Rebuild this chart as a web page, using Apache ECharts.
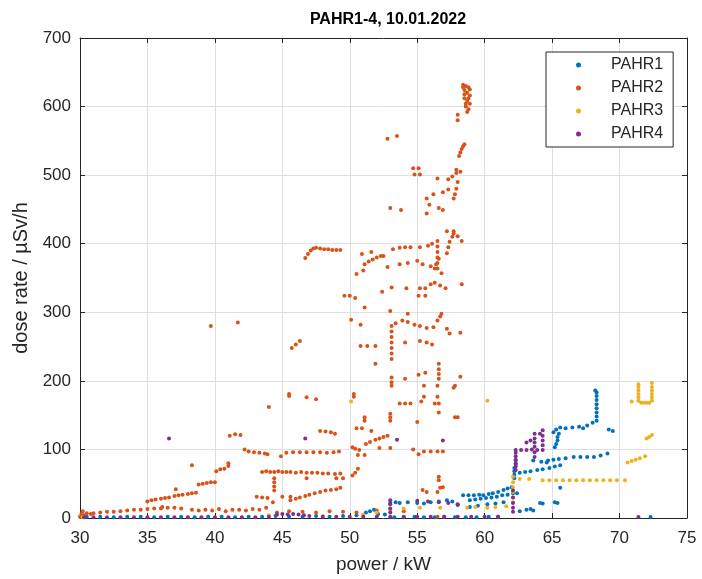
<!DOCTYPE html>
<html>
<head>
<meta charset="utf-8">
<script src="https://cdn.jsdelivr.net/npm/echarts@6/dist/echarts.min.js"></script>
<style>
  html, body { margin: 0; padding: 0; background: #fff; }
  #chart { width: 702px; height: 579px; }
</style>
</head>
<body>
<div id="chart"></div>
<script>
// tick values
const xTicks = [30, 35, 40, 45, 50, 55, 60, 65, 70, 75];
const yTicks = [0, 100, 200, 300, 400, 500, 600, 700];
const seriesNames = ['PAHR1', 'PAHR2', 'PAHR3', 'PAHR4'];

// [power kW, dose rate uSv/h]
const pahr1 = [
  [30.5,2],[31.5,2],[32.5,1],[33.5,2],[34.5,2],[35.5,1],[36.5,2],[37.5,2],[38.5,1],[39.5,2],
  [40.5,2],[41.5,1],[42.5,2],[43.5,2],[44.5,3],[45.5,2],[46.5,2],[47.5,3],[48.5,2],[49.5,3],
  [50.5,4],[51.2,8],[51.5,10],[51.8,12],[52.1,6],[52.6,5],[53.3,1],[54,1],[54.8,2],[55.5,1],
  [56.3,1],[57,2],[57.8,1],[58.6,1],[59.4,1],[60.3,2],[61,2],
  [53,22],[53.4,23],[53.7,22],[54.3,23],[55,22],[55.5,21],[56,23],[56.6,24],[57.2,26],[57.6,24],[58,19],
  [58.4,33],[58.8,33],[59.2,33],[59.6,34],[59.9,33],[60.3,35],[60.6,36],[61,38],[61.4,41],[61.7,43],[62,45],
  [58.9,26],[59.3,27],[59.7,28],[60.1,29],[60.5,30],[60.9,31],[61.3,33],[61.7,34],[62.1,36],[62.4,36],
  [58.9,16],[59.5,18],[60.2,20],[60.8,21],[61.4,23],
  [62.2,58],[62.2,63],[62.2,68],[62.2,73],[62.3,78],[62.3,84],
  [62.6,66],[63,67],[63.4,68],[63.9,70],[64.3,71],[64.8,73],[65.2,75],[65.6,77],
  [63.6,84],[64.2,82],[64.6,81],[64.7,84],[65.1,85],[65.5,86],[66,87],[66.6,89],[67.1,89],[67.6,89],
  [68.1,89],[68.6,91],[69.1,94],
  [65.2,103],[65.3,108],[65.4,113],[65.4,118],[65.5,123],[65.1,125],[65.3,129],[65.6,132],[66,131],
  [66.5,132],[67,133],[67.3,131],[67.6,135],[68,139],
  [68.3,142],[68.3,148],[68.3,154],[68.3,160],[68.3,166],[68.3,172],[68.3,178],[68.3,183],[68.2,186],
  [69.2,129],[69.5,127],
  [62.6,10],[63.1,12],[63.4,13],[63.6,11],[64.1,22],[64.3,21],[65.2,23],[65.4,22],[65.6,44],
  [72.3,1.5]
];

const pahr2 = [
  // low band 30-38
  [30,2],[30.1,6],[30.2,10],[30.3,4],[30.5,7],[30.8,6],[31,7],[31.5,8],[32,9],[32.5,9],[33,10],
  [33.5,11],[34,12],[34.5,12],[35,13],[35.5,14],[36,14],[36.1,16],[36.5,15],[37,15],[37.5,14],
  [38.3,12],[38.8,11],[39.3,12],[39.8,11],[40.3,13],[40.8,10],[41.3,12],[41.8,12],[42.3,11],
  [42.8,13],[43.3,12],[43.8,15],
  [35,24],[35.3,26],[35.6,27],[36,28],[36.3,29],[36.6,30],[37,32],[37.3,33],[37.6,34],[38,35],
  [38.3,36],[38.6,37],[37.1,42],
  [38.8,49],[39.1,50],[39.4,51],[39.7,52],[40,52],
  [40.1,68],[40.4,71],[40.7,72],[41,76],[41,80],[38.3,77],
  [41.1,120],[41.5,122],[41.9,121],
  [42.2,100],[42.5,97],[42.9,96],[43.3,95],[43.7,94],[43.9,93],
  [39.7,280],[41.7,285],[44,162],[45.5,178],[46.8,176],[47.5,173],[45.5,181],
  [45.7,248],[46,253],[46.3,258],
  [46.7,379],[46.9,385],[47.1,390],[47.3,393],[47.5,394],[47.8,393],[48.1,392],[48.4,392],
  [48.7,391],[49,391],[49.3,391],
  [44.9,90],[45.3,95],[45.8,96],[46.3,96],[46.8,96],[47.3,96],[47.8,96],[48.3,95],[48.8,96],[49.2,97],
  [43.5,67],[43.8,68],[44.1,67],[44.4,67],[44.7,68],[45,67],[45.3,67],[45.6,67],[46,66],[46.4,67],
  [46.8,66],[47.2,66],[47.6,66],[48,65],[48.4,65],[48.9,64],[49.3,65],
  [45.6,26],[46,28],[46.3,30],[46.7,32],[47,34],[47.4,36],[47.8,38],[48.2,40],[48.6,41],[49,42],[49.3,44],
  [44.4,58],[44.4,52],[44.4,46],[44.4,40],
  [43.1,31],[43.5,30],[43.9,29],[44.3,23],[45,31],[45.6,31],
  [44.6,8],[45.5,10],[46.5,9],[47.5,8],[48.5,10],[49.5,9],[50.5,8],[52,11],[54,10],[56.5,2],
  [49,58],[49.5,58],[50.2,62],[50.4,66],[50.6,72],[46.8,58],
  [47.8,127],[48.2,126],[48.6,125],[48.9,123],
  [50.3,181],[50.3,177],[51.1,147],[51.1,142],[50.5,131],[50.9,131],[51.6,127],
  [50.2,103],[50.4,101],[50.7,99],[50.6,92],[51.1,92],
  [51.2,108],[51.5,111],[51.9,114],[52.2,116],[52.5,118],[52.8,120],[52.2,102],[53,102],
  [53,152],[53,147],[53,142],[53.7,167],[54.1,167],[54.5,167],[55,140],[55.3,170],[55.5,177],
  [56.5,177],[56.3,167],[56.6,167],[56.6,154],[57.8,147],[58,147],[57.7,190],
  [54.7,100],[55.1,93],[55.5,97],[56,97],[56.5,97],[56.9,97],
  [56.6,60],[56.6,55],[55.7,38],[56.5,38],[56.7,44],[56.9,45],[55.4,41],
  [53.1,205],[53.1,198],[53.1,193],[54.1,203],[55.1,209],[55.6,212],
  [56.6,203],[56.6,210],[56.6,217],[56.6,225],[58.2,206],[51.9,225],[57.8,193],[55.5,193],[56.5,193],
  [50.8,251],[51.3,251],[51.9,251],[54.1,256],[55.2,258],[55.7,256],[56.1,253],
  [53.1,232],[53.1,240],[53.1,248],[53.1,256],[53.1,264],[53.1,272],[53.1,280],
  [53.4,284],[53.9,288],[54.3,286],[54.8,282],[55.2,280],[55.7,277],[56.2,278],[56.5,288],[56.7,294],[56.8,298],
  [57.2,276],[57.4,269],[58.2,270],
  [50.1,289],[50.8,282],[49.6,324],[50,324],[50.4,321],[51.1,307],[53,302],[54.3,298],
  [52.4,330],[53.1,336],[54.2,335],[55.2,335],[55.6,335],[55.1,324],[55.6,324],
  [56,341],[56.3,343],[56.7,339],[57.1,335],[58.3,341],
  [50.5,356],[51,361],[51.1,370],[51.4,374],[51.7,377],[52,380],[52.3,382],[52.5,382],
  [53.2,392],[53.7,394],[54.1,395],[54.5,395],[55.2,395],[55.8,397],[56.1,400],[50.9,385],[51.6,388],
  [52.8,366],[53.7,370],[54.3,372],[55,375],[55.4,370],[56,367],[56.3,364],[56.8,357],
  [56.5,364],[56.5,372],[56.5,380],[56.5,388],[56.5,396],[56.5,404],[56.4,370],[56.6,378],
  [57.2,386],[57.3,395],[57.4,403],[57.6,410],[57.7,415],[57.2,418],[58.3,404],[57.7,418],[58,411],
  // upper part
  [52.8,553],[53.5,557],[53,452],[53.8,449],[54.7,510],[55.1,510],[54.8,501],[55.2,501],
  [55.7,444],[55.9,457],[55.7,466],[56.2,472],[56.9,475],[57.3,479],[56.6,452],[56.9,449],
  [56.5,495],[57.3,494],[57.6,498],[57.9,503],[58.2,505],[57.9,508],[58,490],[57.9,480],[57.8,472],[57.7,466],
  [58.1,528],[58.2,533],[58.3,538],[58.4,542],[58.5,545],[58,580],[58,588],
  [58.4,632],[58.6,630],[58.8,628],[58.5,624],[58.7,620],[58.9,616],[58.5,612],[58.7,608],
  [58.9,604],[58.6,600],[58.8,596],[58.7,592],[58.5,618],[58.8,612],[58.6,604],[58.9,625],[58.4,628]
];

const pahr3 = [
  [30.2,1],[38,1],[44,4],[48,3],[51,5],[52,8],[53,12],[54,14],
  [55.2,15],[56.7,15],[58.7,15],[59.3,16],[60.2,15],[60.8,16],[61.6,17],
  [62.1,23],[62.1,30],[62.1,38],[62.1,45],[62.1,52],
  [62.1,60],[62.6,57],[63.3,57],[64.3,55],[64.8,55],[65.3,55],[65.8,55],[66.3,55],[66.8,55],
  [67.3,55],[67.8,55],[68.3,55],[68.8,55],[69.3,55],[69.8,55],[70.4,55],
  [60.2,171],[50.1,170],
  [70.6,81],[70.9,83],[71.2,85],[71.5,87],[71.9,90],
  [72,116],[72.2,118],[72.4,121],
  [71.4,171],[71.4,176],[71.4,181],[71.4,186],[71.4,191],[71.4,195],
  [71.6,168],[71.8,168],[72,168],[72.2,168],
  [72.4,171],[72.4,176],[72.4,181],[72.4,186],[72.4,191],[72.4,197],[70.9,170]
];

const pahr4 = [
  [30.3,1],[31,1],[32,1],[33,1],[34,1],[35,1],[36,1],[37,1],[38,1],[39,1],[40,1],[41,1],[42,1],
  [43,1],[44,2],[44.6,5],[45,6],[45.4,5],[45.8,6],[46.2,5],[46.6,4],[47,3],[48,2],[49,2],
  [50,2],[51,2],[52,2],[53,2],[53,8],[53,14],[53,20],[53,26],
  [55,25],[55.8,24],[56.6,23],[57.3,22],[58,20],
  [54,2],[55,2],[56,2],[57,2],[58,2],[59,2],[60,2],[61,2],
  [62.1,9],[62.1,15],[62.1,22],[62.1,30],[62.1,40],
  [62.3,70],[62.3,75],[62.3,80],[62.3,85],[62.3,90],[62.3,95],[62.3,99],
  [62.7,99],[63.1,99],[63.5,100],[63.9,99],
  [63.7,89],[63.7,96],[63.7,104],[63.7,110],[63.7,116],[63.7,123],
  [64.3,99],[64.3,106],[64.3,113],[64.3,120],[64.3,128],[63.1,110],[63.4,113],[64.1,123],
  [36.6,116],[46.7,116],[53.5,114],[56.9,113],[71.4,1.5]
];

const colors = ['#0072BD', '#D95319', '#EDB120', '#7E2F8E'];
const dataSets = [pahr1, pahr2, pahr3, pahr4];
const fontFam = '"Liberation Sans", Arial, sans-serif';
const ink = '#262626';

const chart = echarts.init(document.getElementById('chart'));

function boxAxis(extra) {
  return Object.assign({
    type: 'value',
    axisLine: { show: true, onZero: false, lineStyle: { color: ink, width: 1 } },
    axisTick: { show: true, inside: true, length: 5, lineStyle: { color: ink } },
    axisLabel: { show: false },
    splitLine: { show: false }
  }, extra);
}

chart.setOption({
  animation: false,
  color: colors,
  title: {
    text: 'PAHR1-4, 10.01.2022',
    left: 383,
    textAlign: 'center',
    top: 7,
    textStyle: { fontFamily: fontFam, fontSize: 16, fontWeight: 'bold', color: '#000' }
  },
  grid: { left: 80, right: 15, top: 38, bottom: 61 },
  legend: {
    data: seriesNames,
    orient: 'vertical',
    left: 546,
    top: 52,
    padding: [4, 10, 4, 30],
    itemGap: 5,
    itemWidth: 5,
    itemHeight: 5,
    icon: 'circle',
    backgroundColor: '#fff',
    borderColor: ink,
    borderWidth: 1,
    borderRadius: 0,
    textStyle: { fontFamily: fontFam, fontSize: 16, color: ink, lineHeight: 18, padding: [0, 0, 0, 25] }
  },
  xAxis: [
    boxAxis({
      min: xTicks[0], max: xTicks[xTicks.length - 1], interval: 5,
      position: 'bottom',
      name: 'power / kW', nameLocation: 'middle', nameGap: 37,
      nameTextStyle: { fontFamily: fontFam, fontSize: 19, color: ink },
      axisLabel: { show: true, margin: 12, fontFamily: fontFam, fontSize: 17, color: ink },
      splitLine: { show: true, lineStyle: { color: '#dfdfdf', width: 1 } }
    }),
    boxAxis({ min: xTicks[0], max: xTicks[xTicks.length - 1], interval: 5, position: 'top' })
  ],
  yAxis: [
    boxAxis({
      min: yTicks[0], max: yTicks[yTicks.length - 1], interval: 100,
      position: 'left',
      name: 'dose rate / µSv/h', nameLocation: 'middle', nameGap: 47,
      nameTextStyle: { fontFamily: fontFam, fontSize: 20, color: ink },
      axisLabel: { show: true, margin: 9, fontFamily: fontFam, fontSize: 17, color: ink },
      splitLine: { show: true, lineStyle: { color: '#dfdfdf', width: 1 } }
    }),
    boxAxis({ min: yTicks[0], max: yTicks[yTicks.length - 1], interval: 100, position: 'right' })
  ],
  series: dataSets.map((d, i) => ({
    name: seriesNames[i],
    type: 'scatter',
    xAxisIndex: 0,
    yAxisIndex: 0,
    symbol: 'circle',
    symbolSize: 4,
    itemStyle: { color: colors[i], opacity: 1 },
    data: d
  }))
});
</script>
</body>
</html>
